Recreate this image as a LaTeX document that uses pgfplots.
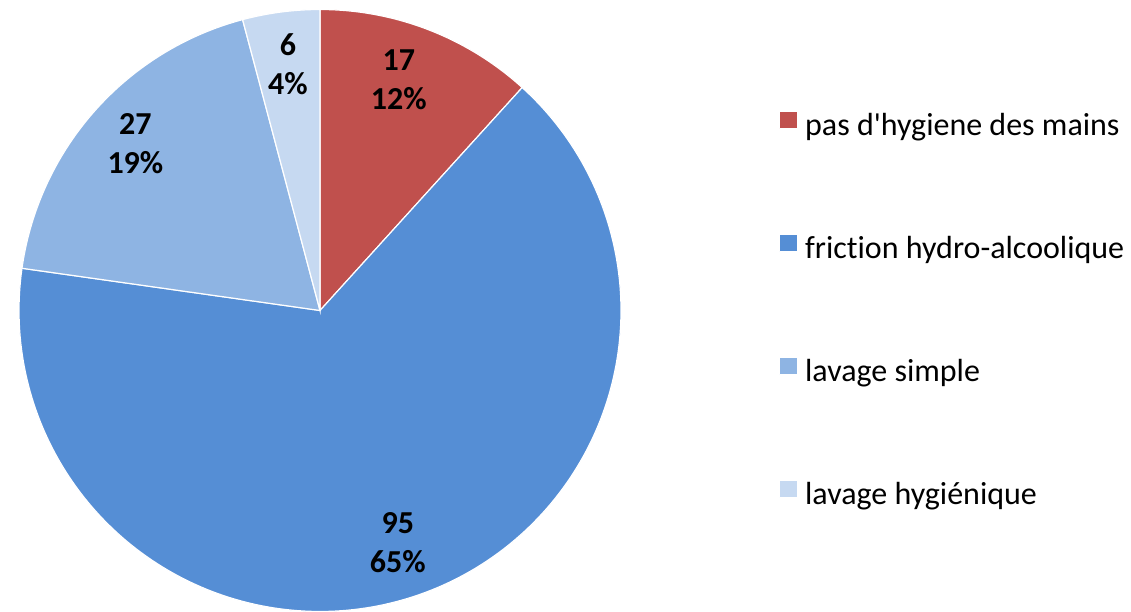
\documentclass[border=0pt]{standalone}
\usepackage{fontspec}
\setmainfont{Carlito}
\newfontfamily\calib{Carlito}[Ligatures=NoCommon]
\usepackage{pgfplots}
\pgfplotsset{compat=1.18}
\definecolor{cNone}{HTML}{C0504D}
\definecolor{cFric}{HTML}{558ED5}
\definecolor{cSimple}{HTML}{8EB4E3}
\definecolor{cHyg}{HTML}{C6D9F1}

% counts per category
\def\vA{17}\def\vB{95}\def\vC{27}\def\vD{6}

\begin{document}
\begin{tikzpicture}
\useasboundingbox (0,0) rectangle (1131pt,612pt);
\pgfmathsetmacro\tot{\vA+\vB+\vC+\vD}
\pgfmathsetmacro\aA{90}
\pgfmathsetmacro\aB{\aA-360*(\vA/\tot)}
\pgfmathsetmacro\aC{\aB-360*(\vB/\tot)}
\pgfmathsetmacro\aD{\aC-360*(\vC/\tot)}
\pgfmathsetmacro\aE{\aD-360*(\vD/\tot)}
\def\lr{0.82}
\pgfmathsetmacro\xA{\lr*cos((\aA+\aB)/2)}\pgfmathsetmacro\yA{\lr*sin((\aA+\aB)/2)}
\pgfmathsetmacro\xB{\lr*cos((\aB+\aC)/2)}\pgfmathsetmacro\yB{\lr*sin((\aB+\aC)/2)}
\pgfmathsetmacro\xC{\lr*cos((\aC+\aD)/2)}\pgfmathsetmacro\yC{\lr*sin((\aC+\aD)/2)}
\pgfmathsetmacro\xD{\lr*cos((\aD+\aE)/2)}\pgfmathsetmacro\yD{\lr*sin((\aD+\aE)/2)}
\begin{axis}[
    at={(320pt,301.5pt)}, anchor=center,
    scale only axis, width=602pt, height=602pt,
    xmin=-1, xmax=1, ymin=-1, ymax=1,
    hide axis, clip=false,
    legend style={
        at={(1.262,0.8314)}, anchor=north west,
        draw=none, fill=none, inner sep=0pt,
        font=\calib\fontsize{32}{38}\selectfont,
        row sep=90.3pt,
        nodes={inner sep=0pt, text height=22pt, text depth=8pt},
    },
    legend cell align=left,
    legend image code/.code={\fill[#1] (0pt,-1pt) rectangle (18pt,17pt); \path (0pt,0pt) -- (25pt,0pt);},
]
\addplot[fill=cNone, draw=white, line width=1.2pt, domain=\aB:\aA, samples=60] ({cos(x)},{sin(x)}) -- (0,0) -- cycle;
\addplot[fill=cFric, draw=white, line width=1.2pt, domain=\aC:\aB, samples=200] ({cos(x)},{sin(x)}) -- (0,0) -- cycle;
\addplot[fill=cSimple, draw=white, line width=1.2pt, domain=\aD:\aC, samples=80] ({cos(x)},{sin(x)}) -- (0,0) -- cycle;
\addplot[fill=cHyg, draw=white, line width=1.2pt, domain=\aE:\aD, samples=30] ({cos(x)},{sin(x)}) -- (0,0) -- cycle;
\legend{pas d'hygiene des mains, friction hydro-alcoolique, lavage simple, lavage hygiénique}

\begin{scope}[every node/.style={font=\calib\fontsize{32}{39}\selectfont\bfseries, align=center}]
\node[xshift=-10pt] at (axis cs:\xA,\yA) {17\\12\%};
\node[xshift=-6pt] at (axis cs:\xB,\yB) {95\\65\%};
\node[yshift=3pt] at (axis cs:\xC,\yC) {27\\19\%};
\node[yshift=2pt] at (axis cs:\xD,\yD) {6\\4\%};
\end{scope}
\end{axis}
\end{tikzpicture}
\end{document}
